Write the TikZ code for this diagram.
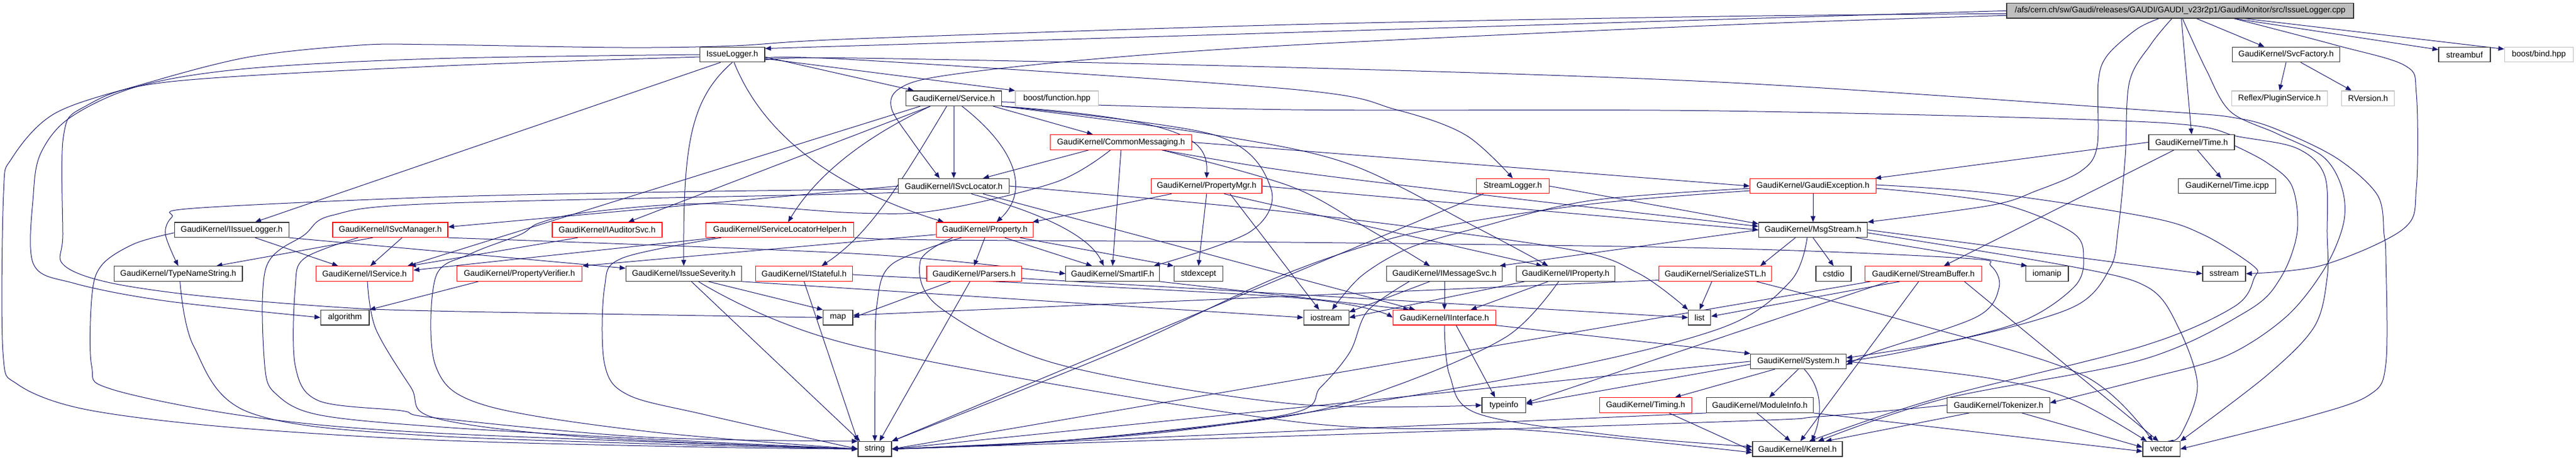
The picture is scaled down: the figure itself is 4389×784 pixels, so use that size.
\documentclass[tikz,border=0pt]{standalone}
\usepackage{fontspec}
\setmainfont{Liberation Sans}
\usetikzlibrary{arrows.meta}
\definecolor{edgec}{HTML}{191970}
\definecolor{redb}{HTML}{FF0000}
\definecolor{grayb}{HTML}{BFBFBF}
\definecolor{rootf}{HTML}{BFBFBF}
\pgfdeclarelayer{bg}
\pgfsetlayers{bg,main}
\begin{document}
\begin{tikzpicture}[x=1pt,y=-1pt,
  nd/.style={draw=black!80, line width=1.2pt, fill=white, minimum height=25.5pt, inner sep=0pt, font=\fontsize{14}{16}\selectfont},
  rd/.style={nd, draw=redb},
  gd/.style={nd, draw=grayb},
  rt/.style={nd, fill=rootf},
  e/.style={draw=edgec, line width=1pt, -{Triangle[length=10pt,width=8pt]}},
  sm/.style={e, smooth, tension=0.55}
]
\useasboundingbox (0,0) rectangle (4389,784);
% row 0
\node[rt, minimum width=591pt] (R) at (3714.5,18.3) {/afs/cern.ch/sw/Gaudi/releases/GAUDI/GAUDI\_v23r2p1/GaudiMonitor/src/IssueLogger.cpp};
% row 1
\node[nd, minimum width=110.5pt] (IL) at (1247.7,93) {IssueLogger.h};
\node[nd, minimum width=183pt] (SF) at (3895,93) {GaudiKernel/SvcFactory.h};
\node[nd, minimum width=88pt] (sbuf) at (4199,93) {streambuf};
\node[gd, minimum width=117pt] (bind) at (4325.7,93) {boost/bind.hpp};
% row 2
\node[nd, minimum width=163pt] (SV) at (1625,167.7) {GaudiKernel/Service.h};
\node[gd, minimum width=141.5pt] (fn) at (1800.7,167.7) {boost/function.hpp};
\node[gd, minimum width=163pt] (PS) at (3883.8,167.7) {Reflex/PluginService.h};
\node[gd, minimum width=89.6pt] (RV) at (4034.6,167.7) {RVersion.h};
% row 3
\node[rd, minimum width=241.6pt] (CM) at (1910,242.4) {GaudiKernel/CommonMessaging.h};
\node[nd, minimum width=146pt] (TM) at (3734,242.4) {GaudiKernel/Time.h};
% row 4
\node[nd, minimum width=189pt] (SL) at (1625,317.1) {GaudiKernel/ISvcLocator.h};
\node[rd, minimum width=188.5pt] (PM) at (2055.8,317.1) {GaudiKernel/PropertyMgr.h};
\node[rd, minimum width=123.6pt] (SLg) at (2577.4,317.1) {StreamLogger.h};
\node[rd, minimum width=214.7pt] (GE) at (3089,317.1) {GaudiKernel/GaudiException.h};
\node[nd, minimum width=165.7pt] (TI) at (3794.6,317.1) {GaudiKernel/Time.icpp};
% row 5
\node[nd, minimum width=195pt] (IIL) at (394.7,391.8) {GaudiKernel/IIssueLogger.h};
\node[rd, minimum width=196pt] (ISM) at (665,391.8) {GaudiKernel/ISvcManager.h};
\node[rd, minimum width=187pt] (IAS) at (1034.4,391.8) {GaudiKernel/IAuditorSvc.h};
\node[rd, minimum width=252pt] (SLH) at (1328.8,391.8) {GaudiKernel/ServiceLocatorHelper.h};
\node[rd, minimum width=165.6pt] (PR) at (1678,391.8) {GaudiKernel/Property.h};
\node[nd, minimum width=185pt] (MS) at (3089,391.8) {GaudiKernel/MsgStream.h};
% row 6
\node[nd, minimum width=218.5pt] (TNS) at (303.7,466.5) {GaudiKernel/TypeNameString.h};
\node[rd, minimum width=165.7pt] (IS) at (621,466.5) {GaudiKernel/IService.h};
\node[rd, minimum width=213.3pt] (PV) at (885,466.5) {GaudiKernel/PropertyVerifier.h};
\node[nd, minimum width=197.2pt] (ISev) at (1165,466.5) {GaudiKernel/IssueSeverity.h};
\node[rd, minimum width=165.7pt] (IST) at (1370,466.5) {GaudiKernel/IStateful.h};
\node[rd, minimum width=161.4pt] (PA) at (1659.6,466.5) {GaudiKernel/Parsers.h};
\node[nd, minimum width=159.5pt] (SIF) at (1895.6,466.5) {GaudiKernel/SmartIF.h};
\node[nd, minimum width=83.6pt] (sexc) at (2042,466.5) {stdexcept};
\node[nd, minimum width=196.8pt] (IMS) at (2461,466.5) {GaudiKernel/IMessageSvc.h};
\node[nd, minimum width=168pt] (IP) at (2667.6,466.5) {GaudiKernel/IProperty.h};
\node[rd, minimum width=192pt] (SSTL) at (2922.6,466.5) {GaudiKernel/SerializeSTL.h};
\node[nd, minimum width=60pt] (cstdio) at (3124,466.5) {cstdio};
\node[rd, minimum width=198.6pt] (SB) at (3277,466.5) {GaudiKernel/StreamBuffer.h};
\node[nd, minimum width=72.6pt] (iomanip) at (3487.7,466.5) {iomanip};
\node[nd, minimum width=73pt] (sstream) at (3789.5,466.5) {sstream};
% row 7
\node[nd, minimum width=82.5pt] (alg) at (587.7,541.2) {algorithm};
\node[nd, minimum width=50.5pt] (map) at (1427.8,541.2) {map};
\node[nd, minimum width=77pt] (iostream) at (2259.6,541.2) {iostream};
\node[rd, minimum width=175pt] (II) at (2461,541.2) {GaudiKernel/IInterface.h};
\node[nd, minimum width=38.2pt] (list) at (2895.7,541.2) {list};
% row 8
\node[nd, minimum width=162.3pt] (SY) at (3064,615.9) {GaudiKernel/System.h};
% row 9
\node[nd, minimum width=74.6pt] (typeinfo) at (2562.3,690.6) {typeinfo};
\node[rd, minimum width=157.2pt] (TG) at (2803.7,690.6) {GaudiKernel/Timing.h};
\node[nd, minimum width=182pt] (MI) at (2998.4,690.6) {GaudiKernel/ModuleInfo.h};
\node[nd, minimum width=174.6pt] (TK) at (3405,690.6) {GaudiKernel/Tokenizer.h};
% row 10
\node[nd, minimum width=57pt] (str) at (1490.5,765.3) {string};
\node[nd, minimum width=153pt] (KN) at (3062.5,765.3) {GaudiKernel/Kernel.h};
\node[nd, minimum width=63.2pt] (vec) at (3682.6,765.3) {vector};

\begin{pgfonlayer}{bg}
% root
\draw[e] (R.west) -- ([yshift=-3pt]IL.north east);
\draw[sm] plot coordinates {([yshift=-5pt]R.west) (2930,28) (2200,42) (1460,66) (1250,78) (1060,81) (740,76) (613,77) (425,97) (245,143) (94,193) (20,270) (6,330) (5,600) (30,655) (142,697) (378,727) (740,750) (1200,762) (str.west)};
\draw[sm] plot coordinates {([yshift=-8pt]R.west) (2930,43) (2200,77) (1838,103) (1602,130) (1531,152) (1519,185) (1554,240) ([xshift=-24pt]SL.north)};
\draw[sm] plot coordinates {([xshift=-36pt]R.south) (3640,50) (3590,95) (3575,140) (3573,250) (3545,292) (3470,325) (3392,350) (MS.north east)};
\draw[sm] plot coordinates {([xshift=-14pt]R.south) (3665,75) (3628,140) (3621,267) (3609,390) (3595,457) (3533,523) (3345,577) ([yshift=6pt]SY.east)};
\draw[e] ([xshift=2pt]R.south) -- (TM.north);
\draw[e] ([xshift=28pt]R.south) -- ([xshift=-37pt]SF.north);
\draw[e] ([xshift=92pt]R.south) -- ([yshift=-5pt]sbuf.north west);
\draw[e] ([xshift=110pt]R.south) -- ([yshift=-4pt]bind.north west);
\draw[sm] plot coordinates {([xshift=92pt]R.south) (3980,77) (4098,112) (4117,160) (4117,320) (4095,390) (3957,452) (sstream.east)};
\draw[sm] plot coordinates {([xshift=4pt]R.south) (3758,117) (3800,190) (3880,228) (3958,267) (3990,320) (3993,380) (3961,457) (3895,540) (3792,607) (3650,647) ([yshift=4pt]TK.east)};
% IssueLogger.h
\draw[sm] plot coordinates {(IL.west) (740,100) (420,117) (236,147) (120,200) (70,260) (57,330) (57,450) (127,483) (283,513) (alg.west)};
\draw[sm] plot coordinates {([yshift=-4pt]IL.west) (740,113) (283,140) (142,183) (108,233) (107,400) (107,450) (179,480) (330,503) (566,523) (740,530) (1200,538) (map.west)};
\draw[sm] plot coordinates {([yshift=-6pt]IL.east) (1460,102) (2200,152) (2379,187) (2497,230) (SLg.north)};
\draw[sm] plot coordinates {([yshift=-9pt]IL.east) (1460,99) (2200,115) (2930,140) (3660,188) (3815,202) (3895,227) (3985,272) (4051,333) (4062,400) (4065,440) (4065,620) (4037,673) (3933,710) (vec.east)};
\draw[e] ([yshift=-4pt]IL.east) -- ([xshift=14pt]SV.north west);
\draw[e] ([yshift=-7pt]IL.east) -- (fn.north west);
\draw[e] ([xshift=-20pt]IL.south) -- ([xshift=40pt]IIL.north);
\draw[e] (IL.south) .. controls (1175,170) and (1164,250) .. (ISev.north);
\draw[e] ([xshift=3pt]IL.south) .. controls (1300,230) and (1420,320) .. ([xshift=-70pt]PR.north);
% SvcFactory
\draw[e] (SF.south) -- (PS.north);
\draw[e] ([xshift=25pt]SF.south) -- ([xshift=-28pt]RV.north);
% Service.h
\draw[e] (SV.south) -- (SL.north);
\draw[e] ([xshift=-15pt]SV.south east) -- ([xshift=-48pt]CM.north);
\draw[e] (SV.south east) .. controls (2030,205) and (2058,240) .. (PM.north);
\draw[e] ([xshift=14pt]SV.south) .. controls (1740,260) and (1750,330) .. ([xshift=20pt]PR.north);
\draw[e] ([xshift=-40pt]SV.south) -- ([xshift=36pt]IAS.north);
\draw[e] ([xshift=-40pt]SV.south) .. controls (1470,235) and (1390,300) .. ([xshift=14pt]SLH.north);
\draw[e] ([xshift=-57pt]SV.south) -- ([xshift=-10pt]IS.north east);
\draw[e] ([xshift=-12pt]SV.south) .. controls (1530,320) and (1480,400) .. ([xshift=30pt]IST.north);
\draw[sm] plot coordinates {(SV.south east) (2069,230) (2165,320) (2130,395) ([xshift=-10pt]SIF.north east)};
\draw[sm] plot coordinates {(SV.south east) (2069,230) (2300,280) (2520,390) ([xshift=-30pt]IP.north)};
\draw[sm] plot coordinates {([yshift=-6pt]SV.east) (2200,187) (2930,189) (3660,208) (3815,233) (3914,253) (3961,300) (3965,400) (3965,473) (3943,557) (3862,640) (vec.north east)};
% CommonMessaging.h
\draw[e] ([xshift=-55pt]CM.south) -- ([xshift=50pt]SL.north);
\draw[e] (CM.east) -- (GE.west);
\draw[sm] plot coordinates {([xshift=70pt]CM.south) (2200,292) (2577,338) ([yshift=6pt]MS.west)};
\draw[sm] plot coordinates {([xshift=70pt]CM.south) (2200,318) (2331,390) ([xshift=-25pt]IMS.north)};
\draw[e] (CM.south) -- (SIF.north);
\draw[sm] plot coordinates {([xshift=-18pt]CM.south) (1800,310) (1600,358) (1460,363) (1202,347) (1000,362) (919,380) (886,400) (801,433) (742,473) (742,623) (824,690) (1100,735) (str.west)};
% Time.h
\draw[e] ([xshift=10pt]TM.south) -- ([xshift=-10pt]TI.north);
\draw[e] (TM.west) -- ([xshift=-2pt]GE.north east);
\draw[e] ([xshift=-30pt]TM.south) -- ([xshift=35pt]SB.north);
\draw[sm] plot coordinates {([yshift=-6pt]TM.east) (3862,277) (3905,317) (3914,395) (3886,473) (3829,530) (3650,613) (3311,680) ([xshift=35pt]KN.north)};
% ISvcLocator.h
\draw[e] (SL.west) -- ([yshift=5pt]ISM.east);
\draw[sm] plot coordinates {([yshift=-5pt]SL.west) (1155,327) (740,336) (330,355) (293,370) (282,400) (TNS.north)};
\draw[sm] plot coordinates {([yshift=-9pt]SL.west) (1470,330) (740,347) (566,367) (519,400) (453,457) (451,623) (472,673) (543,707) (740,727) (1100,748) (str.west)};
\draw[e] ([xshift=30pt]SL.south) .. controls (1800,370) and (1860,410) .. ([xshift=-15pt]SIF.north);
\draw[e] ([xshift=50pt]SL.south) -- ([xshift=-50pt]II.north);
\draw[sm] plot coordinates {(SL.east) (2200,362) (2662,423) (2790,465) (list.north west)};
% PropertyMgr.h
\draw[e] ([xshift=-60pt]PM.south) -- ([xshift=-2pt]PR.north east);
\draw[e] (PM.south) -- (sexc.north);
\draw[e] ([xshift=30pt]PM.south) -- ([xshift=-40pt]IP.north);
\draw[e] ([xshift=40pt]PM.south) -- ([xshift=-12pt]iostream.north);
\draw[e] (PM.east) -- (MS.west);
% StreamLogger.h
\draw[e] (SLg.east) -- ([yshift=-3pt]MS.north west);
\draw[e] ([xshift=-50pt]SLg.south) -- (str.north east);
% GaudiException.h
\draw[e] (GE.south) -- (MS.north);
\draw[sm] plot coordinates {([yshift=-4pt]GE.east) (3400,345) (3529,395) (3550,440) (3533,490) (3439,550) (3250,598) (SY.east)};
\draw[sm] plot coordinates {([yshift=2pt]GE.east) (3400,330) (3660,370) (3754,400) (3839,453) (3841,473) (3806,523) (3650,590) (3297,680) ([xshift=20pt]KN.north)};
\draw[sm] plot coordinates {([yshift=-4pt]GE.west) (2709,342) (2511,390) (2400,423) (2320,470) ([xshift=10pt]iostream.north)};
\draw[sm] plot coordinates {([yshift=-8pt]GE.west) (2709,348) (2421,394) (2190,467) (1900,600) (str.north east)};
% MsgStream.h
\draw[e] ([xshift=-30pt]MS.south) -- ([xshift=-20pt]SSTL.north east);
\draw[e] (MS.south) -- (cstdio.north);
\draw[e] ([xshift=-20pt]MS.south east) -- ([xshift=3pt]iomanip.north west);
\draw[e] (MS.east) -- (sstream.west);
\draw[sm] plot coordinates {([yshift=-5pt]MS.east) (3533,455) (3660,490) (3711,557) (3744,657) (3716,740) ([xshift=10pt]vec.north)};
\draw[sm] plot coordinates {([xshift=-10pt]MS.south) (3050,480) (2930,560) (2600,640) (2000,735) (str.east)};
\draw[e] (MS.west) -- ([xshift=-5pt]IMS.north east);
% StreamBuffer.h
\draw[e] ([xshift=-40pt]SB.south) -- ([yshift=2pt]list.east);
\draw[e] ([xshift=-8pt]SB.south) -- ([xshift=5pt]KN.north);
\draw[e] ([xshift=70pt]SB.south) -- ([xshift=-5pt]vec.north);
\draw[e] ([xshift=-90pt]SB.south) -- (str.east);
\draw[e] ([xshift=-60pt]SB.south) -- ([yshift=4pt]typeinfo.east);
% IInterface.h
\draw[e] ([xshift=20pt]II.south) -- ([xshift=-15pt]typeinfo.north);
\draw[sm] plot coordinates {(II.south) (2470,640) (2518,705) (2750,742) ([yshift=4pt]KN.west)};
\draw[e] (II.south east) -- (SY.north west);
% System.h
\draw[e] (SY.south) -- ([xshift=16pt]MI.north);
\draw[e] ([xshift=10pt]SY.south) .. controls (3112,670) and (3100,720) .. ([xshift=24pt]KN.north);
\draw[e] ([xshift=-40pt]SY.south) -- ([xshift=50pt]TG.north);
\draw[sm] plot coordinates {(SY.east) (3392,645) (3533,682) ([xshift=-25pt]vec.north)};
\draw[e] (SY.west) -- (str.east);
\draw[e] ([yshift=-5pt]SY.west) -- ([yshift=2pt]typeinfo.east);
% Timing, ModuleInfo, Tokenizer
\draw[e] ([xshift=40pt]TG.south) -- ([yshift=-3pt]KN.west);
\draw[e] ([xshift=-5pt]MI.south) -- ([xshift=-12pt]KN.north);
\draw[e] (MI.south west) -- (str.east);
\draw[e] (MI.south east) -- ([yshift=-4pt]vec.west);
\draw[e] ([xshift=-50pt]TK.south) -- ([xshift=48pt]KN.north);
\draw[e] ([xshift=40pt]TK.south) -- ([yshift=3pt]vec.west);
\draw[sm] plot coordinates {(TK.west) (3100,710) (2900,720) (str.east)};
% IService, TypeNameString, IIssueLogger
\draw[sm] plot coordinates {([xshift=5pt]IS.south) (640,560) (700,660) (740,712) (1000,745) (str.west)};
\draw[sm] plot coordinates {([xshift=3pt]TNS.south) (330,590) (425,703) (740,743) (str.west)};
\draw[sm] plot coordinates {([yshift=-5pt]IIL.west) (230,415) (175,450) (157,500) (156,623) (189,663) (425,710) (740,738) (str.west)};
\draw[e] ([xshift=40pt]IIL.south) -- ([xshift=-45pt]IS.north);
\draw[e] (IIL.south east) -- ([yshift=-4pt]ISev.north west);
% ISvcManager
\draw[e] ([xshift=20pt]ISM.south) -- ([xshift=10pt]IS.north);
\draw[e] ([xshift=-30pt]ISM.south) -- ([xshift=65pt]TNS.north);
\draw[sm] plot coordinates {([xshift=-55pt]ISM.south) (519,440) (503,490) (503,623) (543,683) (684,700) (740,712) (1100,745) (str.north west)};
\draw[sm] plot coordinates {(ISM.south east) (1470,433) (SIF.west)};
% IAuditorSvc, ServiceLocatorHelper
\draw[e] ([xshift=-50pt]IAS.south) -- ([xshift=-6pt]IS.north east);
\draw[e] ([xshift=-110pt]SLH.south) -- ([yshift=6pt]IS.east);
\draw[sm] plot coordinates {([xshift=-100pt]SLH.south) (1060,440) (1030,490) (1030,620) (1070,673) (1202,707) (str.west)};
\draw[sm] plot coordinates {(SLH.south east) (1600,409) (2200,413) (2920,423) (3345,440) (3392,453) (3406,490) (3368,540) (3200,598) ([yshift=-6pt]SY.east)};
% Property.h
\draw[e] ([yshift=-8pt]PR.west) -- (PV.north east);
\draw[e] (PR.south) -- (PA.north);
\draw[e] ([xshift=34pt]PR.south) -- ([xshift=-35pt]SIF.north);
\draw[e] ([xshift=60pt]PR.south) -- (sexc.north west);
\draw[sm] plot coordinates {([xshift=-40pt]PR.south) (1520,450) (1494,520) (1491,640) (str.north)};
\draw[sm] plot coordinates {([xshift=-55pt]PR.south) (1568,445) (1600,523) (1800,620) (2200,688) (typeinfo.west)};
% PropertyVerifier, IssueSeverity, IStateful, Parsers, SmartIF
\draw[e] ([xshift=-70pt]PV.south) -- (alg.north east);
\draw[e] ([xshift=42pt]ISev.south) -- (map.north west);
\draw[e] ([xshift=13pt]ISev.south) -- ([xshift=4pt]str.north west);
\draw[sm] plot coordinates {([xshift=25pt]ISev.south) (1460,590) (2200,718) (2600,733) ([yshift=-6pt]KN.west)};
\draw[e] (ISev.south east) -- (iostream.west);
\draw[sm] plot coordinates {(IST.east) (1470,469) (2200,507) (II.west)};
\draw[e] (IST.south) -- (str.north west);
\draw[e] ([xshift=-40pt]PA.south) -- (map.east);
\draw[e] ([xshift=-7pt]PA.south) -- ([xshift=8pt]str.north);
\draw[e] ([yshift=-8pt]PA.east) -- (list.west);
\draw[e] (SIF.south east) -- ([xshift=-60pt]II.north);
% IMessageSvc, IProperty, SerializeSTL
\draw[e] (IMS.south) -- (II.north);
\draw[e] ([xshift=-25pt]IMS.south) -- ([yshift=-4pt]iostream.north east);
\draw[sm] plot coordinates {([xshift=-60pt]IMS.south) (2330,530) (2300,600) (2250,660) (2190,707) (1800,752) (str.east)};
\draw[e] ([xshift=-30pt]IP.south) -- ([xshift=45pt]II.north);
\draw[e] ([xshift=-70pt]IP.south) -- (iostream.east);
\draw[sm] plot coordinates {([xshift=-12pt]IP.south) (2568,573) (2379,657) (2190,710) (1800,752) (str.east)};
\draw[e] ([xshift=-6pt]SSTL.south) -- (list.north);
\draw[e] ([yshift=-11pt]SSTL.west) -- ([yshift=4pt]map.east);
\draw[sm] plot coordinates {([xshift=70pt]SSTL.south) (3250,548) (3550,640) ([xshift=-15pt]vec.north)};
\end{pgfonlayer}
\end{tikzpicture}
\end{document}
